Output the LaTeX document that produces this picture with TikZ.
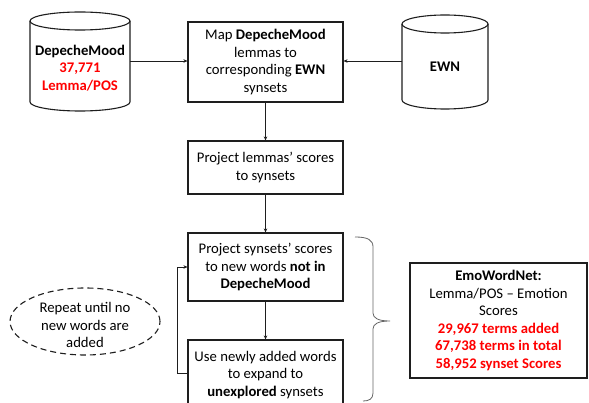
\documentclass[tikz,border=0pt]{standalone}
\usepackage{fontspec}
\setmainfont{Carlito}
\usetikzlibrary{arrows.meta,shapes.geometric}
\definecolor{redtxt}{RGB}{255,0,0}
\definecolor{linec}{RGB}{30,30,30}
\begin{document}
\begin{tikzpicture}[x=1pt,y=-1pt,
  font=\fontsize{14.7}{17.6}\selectfont,
  box/.style={draw=linec, line width=1.1pt, minimum width=155pt, align=center, inner sep=0pt},
  cyl/.style={draw=linec, line width=1.1pt},
  conn/.style={draw=linec, line width=0.9pt, -{Stealth[length=4pt,width=3.5pt]}},
  txt/.style={align=center, inner sep=0pt}]
\useasboundingbox (0,0) rectangle (589,403);
\clip (0,0) rectangle (589,403);
\fill[white] (0,0) rectangle (589,403);

% DepecheMood cylinder
\draw[cyl] (30,21) -- (30,102) arc[start angle=180, end angle=0, x radius=50, y radius=9] -- (130,21);
\draw[cyl] (80,21) ellipse[x radius=50, y radius=9];
\node[minimum width=100pt, minimum height=99pt, inner sep=0pt] (dm) at (80,61.5) {};
\node[txt] (dmt) at (80,68) {\textbf{DepecheMood}\\{\color{redtxt}\textbf{37,771}}\\{\color{redtxt}\textbf{Lemma/POS}}};

% EWN cylinder
\draw[cyl] (402,24) -- (402,100) arc[start angle=180, end angle=0, x radius=43, y radius=9] -- (488,24);
\draw[cyl] (445,24) ellipse[x radius=43, y radius=9];
\node[minimum width=86pt, minimum height=94pt, inner sep=0pt] (ewn) at (445,62) {};
\node[txt] (ewnt) at (445,67) {\textbf{EWN}};

% process boxes
\node[box, minimum height=80pt] (b1) at (265.5,62) {Map \textbf{DepecheMood}\\lemmas to\\corresponding \textbf{EWN}\\synsets};
\node[box, minimum height=53pt] (b2) at (265.5,167.5) {Project lemmas’ scores\\to synsets};
\node[box, minimum height=68pt] (b3) at (265.5,267) {Project synsets’ scores\\to new words \textbf{not in}\\\textbf{DepecheMood}};
\node[box, minimum height=70pt] (b4) at (265.5,375) {Use newly added words\\to expand to\\\textbf{unexplored} synsets};

% connectors
\draw[conn] (dm.east |- 0,61) -- (b1.west |- 0,61);
\draw[conn] (ewn.west |- 0,61) -- (b1.east |- 0,61);
\draw[conn] (b1) -- (b2);
\draw[conn] (b2) -- (b3);
\draw[conn] (b3) -- (b4);
\draw[conn] ([yshift=2pt]b4.west) -- ++(-10,0) |- (b3.west);

% dashed ellipse
\node[ellipse, draw=linec, dash pattern=on 6pt off 4pt, line width=1.1pt, minimum width=150pt, minimum height=67pt, inner sep=0pt] (rep) at (85,321.5) {};
\node[txt] (rept) at (85,325) {Repeat until no\\new words are\\added};

% brace
\draw[draw=gray!80!black, line width=0.8pt] (355,237) .. controls (368,237) and (373,240) .. (373,247) -- (373,313) .. controls (373,318) and (378,321) .. (390,321) .. controls (378,321) and (373,324) .. (373,329) -- (373,393) .. controls (373,399) and (369,401) .. (363,401);

% EmoWordNet box
\node[box, minimum width=177pt, minimum height=115pt] (emo) at (498.5,320.5) {\textbf{EmoWordNet:}\\Lemma/POS – Emotion\\Scores\\{\color{redtxt}\textbf{29,967 terms added}}\\{\color{redtxt}\textbf{67,738 terms in total}}\\{\color{redtxt}\textbf{58,952 synset Scores}}};
\end{tikzpicture}
\end{document}
